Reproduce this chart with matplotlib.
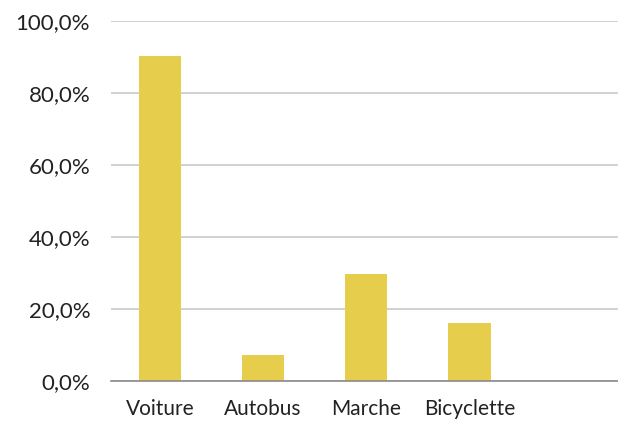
import matplotlib.pyplot as plt
from matplotlib.ticker import FuncFormatter

# Mode de transport
categories = ['Voiture', 'Autobus', 'Marche', 'Bicyclette']
values = [90.2, 7.2, 29.6, 16.1]
yticks = [0, 20, 40, 60, 80, 100]

plt.rcParams['font.family'] = ['Lato', 'DejaVu Sans']

fig = plt.figure(figsize=(6.18, 4.23), dpi=100)
ax = fig.add_axes([111 / 618, 1 - 381 / 423, 1 - 111 / 618, 360 / 423])

x = range(len(categories))
ax.bar(x, values, width=0.41, color='#E6CD4C', zorder=3)

ax.set_xlim(-0.475, 4.44)
ax.set_ylim(0, 100)
ax.set_yticks(yticks)
ax.yaxis.set_major_formatter(FuncFormatter(lambda v, p: f'{v:.1f}'.replace('.', ',') + '%'))
ax.set_xticks(list(x))
ax.set_xticklabels(categories)

ax.grid(axis='y', color='#C9C9C9', linewidth=1.2, zorder=0)
for s in ['top', 'right', 'left']:
    ax.spines[s].set_visible(False)
ax.spines['bottom'].set_color('#8A8A8A')
ax.spines['bottom'].set_linewidth(1.2)
ax.spines['bottom'].set_zorder(4)
ax.tick_params(axis='both', length=0, colors='#222222')
ax.tick_params(axis='y', pad=15, labelsize=16)
ax.tick_params(axis='x', pad=13, labelsize=15)

fig.savefig('out.png', dpi=100)
